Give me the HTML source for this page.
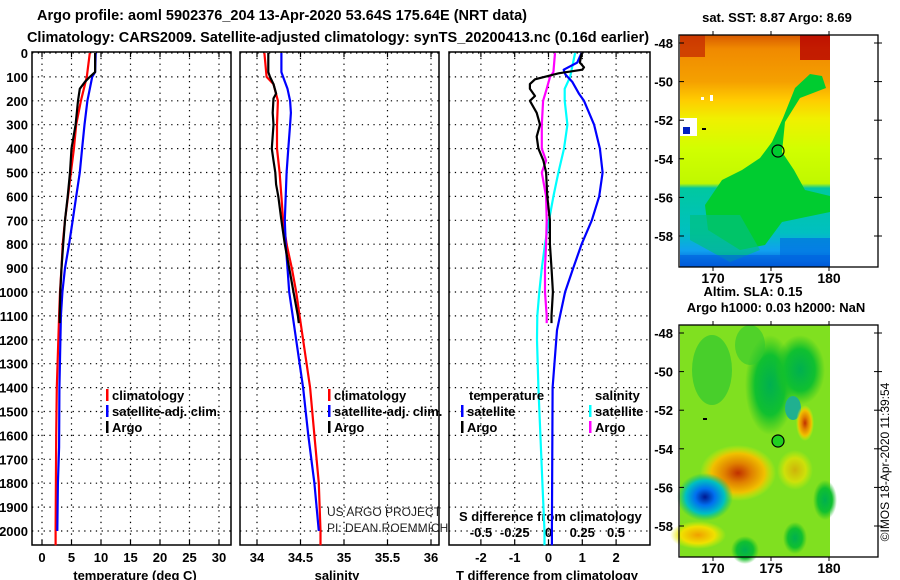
<!DOCTYPE html>
<html><head><meta charset="utf-8"><style>
body{margin:0;background:#fff}
svg{display:block;font-family:"Liberation Sans",sans-serif}
text{font-weight:bold;font-size:13px;fill:#000}
</style></head><body>
<svg id="c" width="900" height="580" viewBox="0 0 900 580">
<defs>
<linearGradient id="sstg" x1="0" y1="0" x2="0" y2="1">
<stop offset="0" stop-color="#d85a00"/><stop offset="0.06" stop-color="#f08a00"/><stop offset="0.2" stop-color="#f5a000"/>
<stop offset="0.28" stop-color="#ffcc00"/><stop offset="0.36" stop-color="#f0f000"/><stop offset="0.5" stop-color="#d0ff00"/>
<stop offset="0.64" stop-color="#c0f800"/><stop offset="0.66" stop-color="#00c8a0"/><stop offset="0.85" stop-color="#00c0c0"/>
<stop offset="0.93" stop-color="#10a0f0"/><stop offset="1" stop-color="#0050d0"/></linearGradient>
<radialGradient id="org"><stop offset="0" stop-color="#c03000"/><stop offset="0.35" stop-color="#e08000"/><stop offset="0.7" stop-color="#f0c000"/><stop offset="1" stop-color="#e8f000" stop-opacity="0"/></radialGradient>
<radialGradient id="blu"><stop offset="0" stop-color="#001890"/><stop offset="0.35" stop-color="#0070f0"/><stop offset="0.7" stop-color="#00c0c0"/><stop offset="1" stop-color="#00c060" stop-opacity="0"/></radialGradient>
<radialGradient id="yel"><stop offset="0" stop-color="#f0a000"/><stop offset="0.6" stop-color="#f0e000"/><stop offset="1" stop-color="#e0f000" stop-opacity="0"/></radialGradient>
<radialGradient id="grn"><stop offset="0" stop-color="#00b050"/><stop offset="0.6" stop-color="#10c030"/><stop offset="1" stop-color="#20c020" stop-opacity="0"/></radialGradient>
</defs>
<g id="plots"></g>
<text x="282" y="20" text-anchor="middle" style="font-size:14.5px">Argo profile: aoml 5902376_204 13-Apr-2020 53.64S 175.64E (NRT data)</text>
<text x="338" y="42" text-anchor="middle" style="font-size:14.5px">Climatology: CARS2009. Satellite-adjusted climatology: synTS_20200413.nc (0.16d earlier)</text>

<g>
<rect x="680" y="35" width="150" height="232" fill="url(#sstg)"/>
<rect x="680" y="35" width="25" height="22" fill="#c83000" opacity="0.8"/>
<rect x="800" y="35" width="30" height="25" fill="#b80000" opacity="0.8"/>
<polygon points="822,76 810,74 795,88 783,118 772,142 760,158 742,170 722,180 705,205 708,230 740,250 765,245 782,222 830,212 830,196 805,190 794,170 782,152 785,122 800,98 826,88" fill="#00cc30"/>
<polygon points="690,215 740,215 760,250 730,262 690,240" fill="#00c080" opacity="0.7"/>
<rect x="780" y="238" width="50" height="22" fill="#0070e0" opacity="0.7"/>
<rect x="680" y="255" width="150" height="12" fill="#0060e0" opacity="0.6"/>
<rect x="680" y="118" width="17" height="18" fill="#fff"/>
<rect x="683" y="127" width="7" height="7" fill="#0020c0"/>
<rect x="701" y="97" width="3" height="3" fill="#fff"/><rect x="710" y="95" width="3" height="6" fill="#fff"/>
<rect x="702" y="128" width="4" height="2" fill="#000"/>
<circle cx="778" cy="151" r="6" fill="none" stroke="#000" stroke-width="1.2"/>
</g>
<g>
<rect x="680" y="325" width="150" height="232" fill="#80e020"/>
<ellipse cx="712" cy="370" rx="20" ry="35" fill="#30c830" opacity="0.7"/>
<ellipse cx="770" cy="385" rx="25" ry="50" fill="url(#grn)"/>
<ellipse cx="800" cy="370" rx="25" ry="35" fill="url(#grn)"/>
<ellipse cx="750" cy="345" rx="15" ry="20" fill="#30c830" opacity="0.6"/>
<ellipse cx="793" cy="408" rx="8" ry="12" fill="#20b090"/>
<ellipse cx="805" cy="423" rx="9" ry="18" fill="url(#org)"/>
<ellipse cx="795" cy="470" rx="18" ry="20" fill="url(#yel)" opacity="0.7"/>
<ellipse cx="738" cy="473" rx="38" ry="28" fill="url(#org)"/>
<ellipse cx="705" cy="497" rx="28" ry="24" fill="url(#blu)"/>
<ellipse cx="698" cy="535" rx="28" ry="14" fill="url(#yel)"/>
<ellipse cx="745" cy="550" rx="14" ry="14" fill="url(#grn)"/>
<ellipse cx="795" cy="538" rx="12" ry="16" fill="url(#grn)"/>
<ellipse cx="825" cy="500" rx="12" ry="20" fill="url(#grn)"/>
<rect x="703" y="418" width="4" height="2" fill="#000"/>
<circle cx="778" cy="441" r="6" fill="#20d020" stroke="#000" stroke-width="1.2"/>
</g>
<text x="777" y="22" text-anchor="middle">sat. SST: 8.87 Argo: 8.69</text>
<text x="753" y="296" text-anchor="middle">Altim. SLA: 0.15</text>
<text x="776" y="312" text-anchor="middle">Argo h1000: 0.03 h2000: NaN</text>
<text transform="translate(889,462) rotate(-90)" text-anchor="middle" style="font-weight:normal;font-size:12px">©IMOS 18-Apr-2020 11:39:54</text>
</svg>
<script>
const depthTicks=[0,100,200,300,400,500,600,700,800,900,1000,1100,1200,1300,1400,1500,1600,1700,1800,1900,2000];
const tTicks=[0,5,10,15,20,25,30];
const sTicks=[34,34.5,35,35.5,36];
const dtTicks=[-2,-1,0,1,2];
const dsTicks=[-0.5,-0.25,0,0.25,0.5];
const latTicks=[-48,-50,-52,-54,-56,-58];
const lonTicks=[170,175,180];
const climD=[0,100,200,300,400,500,600,700,800,900,1000,1100,1400,1600,2000,2060];
const climT=[8.1,7.6,6.6,5.8,5.4,4.9,4.4,3.9,3.5,3.3,3.05,2.9,2.5,2.4,2.3,2.3];
const satD=[0,80,100,200,300,400,500,600,700,800,900,1000,1100,1400,1650,1800,2000];
const satT=[9.1,9.0,8.5,7.7,7.2,6.8,6.4,5.8,5.2,4.6,3.9,3.45,3.2,2.95,2.9,2.7,2.6];
const argoD=[0,80,100,120,150,200,300,400,500,600,700,800,900,1000,1100,1130];
const argoT=[9.0,9.0,8.1,7.3,6.4,6.1,5.7,5.0,4.75,4.35,3.9,3.6,3.3,3.1,3.0,3.0];
const climSD=[0,100,130,200,300,400,500,600,700,800,900,1000,1100,1400,1600,1800,2000,2060];
const climS=[34.085,34.11,34.19,34.24,34.23,34.23,34.26,34.28,34.30,34.34,34.40,34.45,34.49,34.61,34.66,34.71,34.73,34.73];
const satSD=[0,80,100,150,200,250,300,400,500,700,800,900,1000,1100,1400,1600,1800,2000];
const satS=[34.28,34.28,34.30,34.35,34.38,34.39,34.38,34.36,34.34,34.32,34.33,34.35,34.37,34.41,34.53,34.59,34.66,34.71];
const argoSD=[0,80,100,130,170,190,250,300,400,450,500,550,600,700,800,900,1000,1100,1130];
const argoS=[34.13,34.13,34.15,34.19,34.22,34.19,34.18,34.19,34.17,34.19,34.21,34.22,34.245,34.28,34.32,34.37,34.42,34.47,34.48];
const satDTD=[0,40,70,90,120,170,200,300,400,500,600,700,800,900,1000,1100,1160,1400,2000,2060];
const satDT=[0.98,0.85,0.45,0.5,0.7,0.9,1.05,1.35,1.52,1.6,1.5,1.28,0.98,0.73,0.49,0.34,0.25,0.12,0.1,0.1];
const argoDTD=[0,40,60,70,85,110,130,150,180,200,250,300,350,400,450,500,600,700,800,900,1000,1100,1130];
const argoDT=[0.98,0.93,1.05,1.0,0.3,-0.4,-0.55,-0.55,-0.4,-0.55,-0.35,-0.25,-0.35,-0.3,-0.15,-0.07,-0.035,0.04,0.04,0.09,0.13,0.09,0.09];
const satDSD=[0,100,150,200,300,400,500,600,700,800,900,1000,1100,1200,1400,1600,1800,2000,2060];
const satDS=[0.197,0.16,0.12,0.12,0.14,0.115,0.073,0.036,0.004,-0.026,-0.05,-0.068,-0.083,-0.085,-0.075,-0.06,-0.045,-0.03,-0.03];
const argoDSD=[0,80,100,150,200,300,400,450,500,600,700,800,900,1000,1100,1130];
const argoDS=[0.048,0.036,0.011,-0.013,-0.04,-0.05,-0.05,-0.018,-0.05,-0.018,-0.013,-0.018,-0.026,-0.026,-0.013,-0.013];

const yD=d=>53+d*0.239;
const xT=t=>42+t*5.9;
const xS=s=>257+(s-34)*87;
const xDT=v=>548.5+v*33.8;
const xDS=v=>548.5+v*135;
const yLat1=l=>43+(-48-l)*19.3;
const yLat2=l=>333+(-48-l)*19.3;
const xLon=l=>713+(l-170)*11.6;

const NS='http://www.w3.org/2000/svg';
const G=document.getElementById('plots');
function mk(tag,attrs,parent){const e=document.createElementNS(NS,tag);for(const k in attrs)e.setAttribute(k,attrs[k]);(parent||G).appendChild(e);return e;}
function txt(x,y,s,anchor,parent,style){const e=mk('text',{x:x,y:y,'text-anchor':anchor||'start'},parent);if(style)e.setAttribute('style',style);e.textContent=s;return e;}

const panels=[{x0:32,x1:231,name:'temperature'},{x0:240,x1:439,name:'salinity'},{x0:449,x1:650,name:'difference'}];
const TOP=52,BOT=545;
panels.forEach((p,i)=>{
  const g=mk('g',{});
  
  
  depthTicks.forEach(d=>{
    const l=mk('line',{x1:p.x0,x2:p.x1,y1:yD(d),y2:yD(d),stroke:'#000','stroke-width':1.2,'stroke-dasharray':'1.3,4.5'},g);
    
    
  });
  let xs=i==0?tTicks.map(xT):i==1?sTicks.map(xS):dtTicks.map(xDT);
  xs.forEach(x=>{
    const l=mk('line',{x1:x,x2:x,y1:TOP,y2:BOT,stroke:'#000','stroke-width':1.2,'stroke-dasharray':'1.3,4.5'},g);
    
    
    mk('line',{x1:x,x2:x,y1:TOP,y2:TOP+5,stroke:'#000','stroke-width':1.2},g);
    mk('line',{x1:x,x2:x,y1:BOT,y2:BOT-5,stroke:'#000','stroke-width':1.2},g);
  });
  const r=mk('rect',{x:p.x0,y:TOP,width:p.x1-p.x0,height:BOT-TOP,fill:'none',stroke:'#000','stroke-width':1.5},g);
  
  
});
depthTicks.forEach(d=>{
  const t=txt(28,yD(d)+5,String(d),'end');
  
  
});
tTicks.forEach(v=>{const t=txt(xT(v),562,String(v),'middle');});
sTicks.forEach(v=>{const t=txt(xS(v),562,String(v),'middle');});
dtTicks.forEach(v=>{const t=txt(xDT(v),562,String(v),'middle');});
dsTicks.forEach(v=>{const t=txt(xDS(v),537,String(v),'middle');});
let t;
t=txt(135,580,'temperature (deg C)','middle');
t=txt(337,580,'salinity','middle');
t=txt(547,580,'T difference from climatology','middle');
t=txt(459,521,'S difference from climatology','start');
t=txt(327,516,'US ARGO PROJECT','start',null,'font-weight:normal;font-size:12px;fill:#222');
t=txt(327,532,'PI: DEAN ROEMMICH','start',null,'font-weight:normal;font-size:12px;fill:#222');

function line(ds,vs,xf,color,name){
  const pts=ds.map((d,i)=>xf(vs[i]).toFixed(1)+','+yD(d).toFixed(1)).join(' ');
  const e=mk('polyline',{points:pts,fill:'none',stroke:color,'stroke-width':2.2,'stroke-linejoin':'round'});
  
  
}
line(climD,climT,xT,'#ff0000','temp-climatology-line');
line(satD,satT,xT,'#0000ff','temp-satellite-line');
line(argoD,argoT,xT,'#000000','temp-argo-line');
line(climSD,climS,xS,'#ff0000','sal-climatology-line');
line(satSD,satS,xS,'#0000ff','sal-satellite-line');
line(argoSD,argoS,xS,'#000000','sal-argo-line');
line(satDSD,satDS,xDS,'#00ffff','sdiff-satellite-line');
line(satDTD,satDT,xDT,'#0000ff','tdiff-satellite-line');
line(argoDSD,argoDS,xDS,'#ff00ff','sdiff-argo-line');
line(argoDTD,argoDT,xDT,'#000000','tdiff-argo-line');

function legend(x,y,color,label,name){
  const g=mk('g',{});
  
  
  mk('rect',{x:x,y:y-11,width:2.5,height:12,fill:color},g);
  txt(x+6,y,label,'start',g);
}
legend(106,400,'#ff0000','climatology','legend-temp-climatology');
legend(106,416,'#0000ff','satellite-adj. clim.','legend-temp-satellite');
legend(106,432,'#000000','Argo','legend-temp-argo');
legend(328,400,'#ff0000','climatology','legend-sal-climatology');
legend(328,416,'#0000ff','satellite-adj. clim.','legend-sal-satellite');
legend(328,432,'#000000','Argo','legend-sal-argo');
t=txt(469,400,'temperature','start');
t=txt(595,400,'salinity','start');
legend(461,416,'#0000ff','satellite','legend-tdiff-satellite');
legend(461,432,'#000000','Argo','legend-tdiff-argo');
legend(589,416,'#00ffff','satellite','legend-sdiff-satellite');
legend(589,432,'#ff00ff','Argo','legend-sdiff-argo');

const svg=document.getElementById('c');
[[35,267,yLat1,'sst'],[325,557,yLat2,'sla']].forEach(m=>{
  const g=mk('g',{},svg);
  
  
  mk('rect',{x:679,y:m[0],width:199,height:m[1]-m[0],fill:'none',stroke:'#000','stroke-width':1.3},g);
  latTicks.forEach(l=>{
    const y=m[2](l);
    mk('line',{x1:679,x2:684,y1:y,y2:y,stroke:'#000'},g);
    mk('line',{x1:874,x2:882,y1:y,y2:y,stroke:'#000'},g);
    txt(673,y+5,String(l),'end',g);
  });
  lonTicks.forEach(l=>{
    const x=xLon(l);
    mk('line',{x1:x,x2:x,y1:m[0]-4,y2:m[0],stroke:'#000'},g);
    mk('line',{x1:x,x2:x,y1:m[1],y2:m[1]+4,stroke:'#000'},g);
    txt(x,m[1]+16,String(l),'middle',g,'font-size:14px');
  });
});
</script>
</body></html>
